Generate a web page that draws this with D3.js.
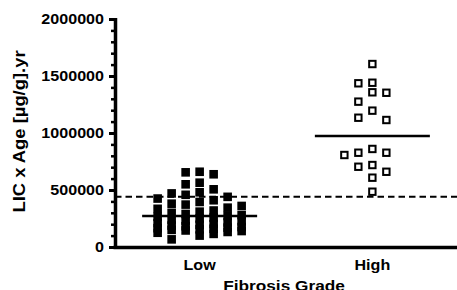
<!DOCTYPE html>
<html>
<head>
<meta charset="utf-8">
<script src="https://cdn.jsdelivr.net/npm/d3@7"></script>
<style>
  body { margin: 0; background: #fff; }
  svg text { font-family: "Liberation Sans", Arial, sans-serif; font-weight: bold; fill: #000; }
</style>
</head>
<body>
<div id="chart"></div>
<script>
// values
const categories = ["Low", "High"];
const lowValues = [660000, 638000, 655000, 564000, 550000, 506000, 470000, 458000, 480000,
  440000, 425000, 410000, 395000, 380000, 372000, 360000, 345000, 335000, 320000, 310000, 300000,
  290000, 280000, 272000, 265000, 258000, 250000, 240000, 232000, 225000, 215000, 208000, 200000,
  195000, 188000, 182000, 175000, 170000, 165000, 160000, 155000, 150000, 145000, 140000, 132000,
  125000, 115000, 100000, 67000];
const highValues = [1605000, 1441000, 1436000, 1357000, 1353000, 1275000, 1196000, 1134000, 1114000,
  860000, 827000, 827000, 807000, 719000, 704000, 660000, 608000, 485000];
const medians = [272000, 973000];
const cutoff = 441000;
const yTicks = [0, 500000, 1000000, 1500000, 2000000];
const yTitle = "LIC x Age [\u00b5g/g].yr";
const xTitle = "Fibrosis Grade";

const W = 457, H = 290;
const svg = d3.select("#chart").append("svg").attr("width", W).attr("height", H);

const y = d3.scaleLinear().domain([0, 2000000]).range([247, 19]);
const x = d3.scalePoint().domain(categories).range([115, 457]).padding(0.49);
const SX = 1.15; // text in the picture is a bit wider than Liberation Sans

// dodge points sideways so they don't sit on each other
function dodge(vals, cx, size) {
  const step = 7, maxSlot = 6, placed = [];
  vals.slice().sort((a, b) => b - a).forEach(v => {
    const py = y(v);
    let best = null, bestScore = -1;
    for (let k = 0; k <= maxSlot * 2; k++) {
      const slot = k === 0 ? 0 : (k % 2 ? -(k + 1) / 2 : k / 2);
      const px = cx + slot * step;
      let minD = Infinity;
      placed.forEach(p => {
        if (Math.abs(p.x - px) < size) minD = Math.min(minD, Math.abs(p.y - py));
      });
      if (minD >= 9.5) { best = px; break; }
      if (minD > bestScore) { bestScore = minD; best = px; }
    }
    placed.push({ x: best, y: py, v: v });
  });
  return placed;
}

// cutoff dashed line
svg.append("line")
  .attr("x1", 115).attr("x2", W).attr("y1", y(cutoff)).attr("y2", y(cutoff))
  .attr("stroke", "#000").attr("stroke-width", 2).attr("stroke-dasharray", "6.5,4");

// y axis: minor then major ticks
const minor = d3.range(0, 2000001, 100000);
svg.append("g").attr("transform", "translate(115,0)")
  .call(d3.axisLeft(y).tickValues(minor).tickSize(4).tickFormat("").tickSizeOuter(0))
  .call(g => g.select(".domain").remove())
  .call(g => g.selectAll("line").attr("stroke-width", 2.5));

const yAxis = svg.append("g").attr("transform", "translate(115,0)")
  .call(d3.axisLeft(y).tickValues(yTicks).tickSize(6).tickPadding(5).tickFormat(d3.format("d")).tickSizeOuter(0));
yAxis.select(".domain").attr("stroke-width", 3.5).attr("d", "M0.5," + (y(0) + 1.5) + "V" + (y(2000000) - 1));
yAxis.selectAll("line").attr("stroke-width", 3);
yAxis.selectAll("text")
  .attr("font-size", 14).attr("font-family", null)
  .attr("x", -11 / SX).attr("transform", `scale(${SX},1)`);

// x axis line
svg.append("line")
  .attr("x1", 113.5).attr("x2", W).attr("y1", y(0) + 0.5).attr("y2", y(0) + 0.5)
  .attr("stroke", "#000").attr("stroke-width", 3.5);

// points
const lowPts = dodge(lowValues, x("Low"), 9);
svg.append("g").selectAll("rect").data(lowPts).join("rect")
  .attr("x", d => d.x - 4.3).attr("y", d => d.y - 4.3)
  .attr("width", 8.6).attr("height", 8.6).attr("fill", "#000");

const highPts = dodge(highValues, x("High"), 9);
svg.append("g").selectAll("rect").data(highPts).join("rect")
  .attr("x", d => d.x - 3.2).attr("y", d => d.y - 3.2)
  .attr("width", 6.4).attr("height", 6.4)
  .attr("fill", "#fff").attr("stroke", "#000").attr("stroke-width", 2);

// median lines
svg.append("g").selectAll("line").data(categories).join("line")
  .attr("x1", d => x(d) - 57.5).attr("x2", d => x(d) + 57.5)
  .attr("y1", (d, i) => y(medians[i])).attr("y2", (d, i) => y(medians[i]))
  .attr("stroke", "#000").attr("stroke-width", 2.5);

// labels
svg.append("g").selectAll("text").data(categories).join("text")
  .attr("transform", d => `translate(${x(d)},270) scale(${SX},1)`)
  .attr("text-anchor", "middle").attr("font-size", 14).text(d => d);

svg.append("text")
  .attr("transform", `translate(284,290.5) scale(${SX},1)`)
  .attr("text-anchor", "middle").attr("font-size", 15).text(xTitle);

svg.append("text")
  .attr("transform", `translate(25,131.5) rotate(-90) scale(${SX},1)`)
  .attr("text-anchor", "middle").attr("font-size", 16).text(yTitle);
</script>
</body>
</html>
